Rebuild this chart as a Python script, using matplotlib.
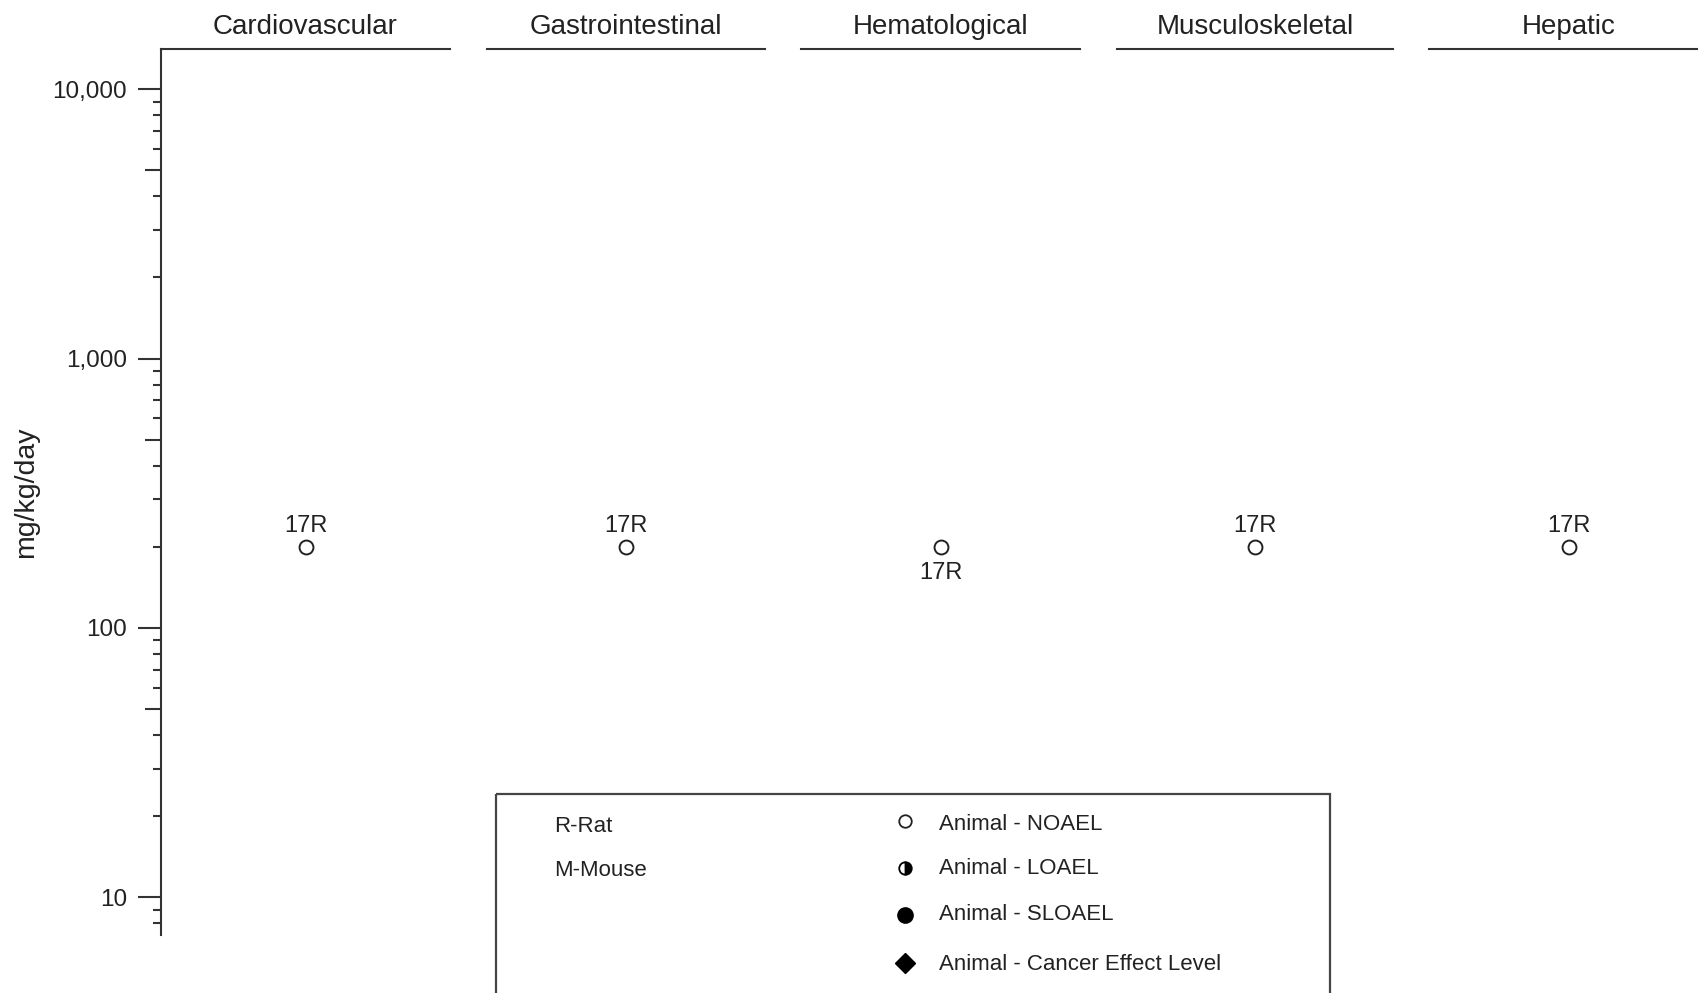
import matplotlib
matplotlib.use("Agg")
import matplotlib.pyplot as plt
import matplotlib.ticker as ticker
from matplotlib.patches import Rectangle

plt.rcParams['font.family'] = ['Liberation Sans', 'DejaVu Sans']

# endpoints and their dose levels (mg/kg/day)
systems = ["Cardiovascular", "Gastrointestinal", "Hematological", "Musculoskeletal", "Hepatic"]
doses = [200, 200, 200, 200, 200]
point_labels = ["17R", "17R", "17R", "17R", "17R"]
label_side = ["above", "above", "below", "above", "above"]

species = ["R-Rat", "M-Mouse"]
effect_types = ["Animal - NOAEL", "Animal - LOAEL", "Animal - SLOAEL", "Animal - Cancer Effect Level"]

W, H = 1698, 993
fig = plt.figure(figsize=(W / 100, H / 100), dpi=100)

# panel edges in pixels
lefts = [161, 487, 801, 1117, 1429]
rights = [450, 765, 1080, 1393, 1708]
top, bottom = 49, 935
ink = "#222222"
spine_col = "#333333"

for i, name in enumerate(systems):
    ax = fig.add_axes([lefts[i] / W, 1 - bottom / H, (rights[i] - lefts[i]) / W, (bottom - top) / H])
    ax.set_yscale("log")
    ax.set_ylim(7.24, 14100)
    ax.set_xlim(-1, 1)
    ax.set_xticks([])
    for s in ["right", "bottom", "left"]:
        ax.spines[s].set_visible(False)
    ax.spines["top"].set_color(spine_col)
    ax.spines["top"].set_linewidth(1.5)
    ax.text(0.5, 1 + 22 / (bottom - top), name, transform=ax.transAxes,
            ha="center", va="center", fontsize=20, color=ink)

    ax.plot([0], [doses[i]], marker="o", markersize=10, markerfacecolor="white",
            markeredgecolor=ink, markeredgewidth=1.4, linestyle="none")
    if label_side[i] == "above":
        ax.annotate(point_labels[i], (0, doses[i]), xytext=(0, 15), textcoords="offset points",
                    ha="center", va="center", fontsize=17, color=ink)
    else:
        ax.annotate(point_labels[i], (0, doses[i]), xytext=(0, -19), textcoords="offset points",
                    ha="center", va="center", fontsize=17, color=ink)

    if i == 0:
        ax.spines["left"].set_visible(True)
        ax.spines["left"].set_color(spine_col)
        ax.spines["left"].set_linewidth(1.5)
        ax.yaxis.set_major_locator(ticker.FixedLocator([10, 100, 1000, 10000]))
        ax.yaxis.set_major_formatter(ticker.FuncFormatter(lambda v, pos: '{:,.0f}'.format(v)))
        ax.yaxis.set_minor_locator(ticker.LogLocator(base=10, subs=[2, 3, 4, 6, 7, 8, 9]))
        ax.yaxis.set_minor_formatter(ticker.NullFormatter())
        ax.tick_params(axis="y", which="major", length=16.5, width=1.5, pad=8,
                       labelsize=17.5, color=spine_col, labelcolor=ink)
        ax.tick_params(axis="y", which="minor", length=5.8, width=1.5, color=spine_col)
        # medium ticks at the 5s
        sec = ax.secondary_yaxis("left")
        sec.spines["left"].set_visible(False)
        sec.yaxis.set_major_locator(ticker.FixedLocator([5, 50, 500, 5000]))
        sec.yaxis.set_major_formatter(ticker.NullFormatter())
        sec.yaxis.set_minor_locator(ticker.NullLocator())
        sec.tick_params(axis="y", which="major", length=11.5, width=1.5, color=spine_col)
        ax.set_ylabel("mg/kg/day", fontsize=20.5, color=ink)
        ax.yaxis.set_label_coords((39 - lefts[0]) / (rights[0] - lefts[0]), 0.5)
    else:
        ax.set_yticks([])
        ax.yaxis.set_minor_locator(ticker.NullLocator())

# legend box drawn on a full-figure overlay in pixel units
leg = fig.add_axes([0, 0, 1, 1])
leg.set_xlim(0, W)
leg.set_ylim(H, 0)
leg.axis("off")
leg.add_patch(Rectangle((496, 794), 1330 - 496, 260, fill=False, edgecolor="#444444", linewidth=1.6))

species_y = [826, 870]
for s, y in zip(species, species_y):
    leg.text(554, y, s, ha="left", va="center", fontsize=16, color=ink)

marker_y = [821, 868, 915, 963]
text_y = [825, 869, 915, 964]
leg.plot([905], [marker_y[0]], marker="o", markersize=9, markerfacecolor="white",
         markeredgecolor=ink, markeredgewidth=1.3, linestyle="none")
leg.plot([905], [marker_y[1]], marker="o", markersize=9, fillstyle="right", markerfacecolor="black",
         markerfacecoloralt="white", markeredgecolor="black", markeredgewidth=1.3, linestyle="none")
leg.plot([905], [marker_y[2]], marker="o", markersize=11, markerfacecolor="black",
         markeredgecolor="black", linestyle="none")
leg.plot([905], [marker_y[3]], marker="D", markersize=10, markerfacecolor="black",
         markeredgecolor="black", linestyle="none")
for t, y in zip(effect_types, text_y):
    leg.text(939, y, t, ha="left", va="center", fontsize=16, color=ink)

fig.savefig("out.png", dpi=100)
